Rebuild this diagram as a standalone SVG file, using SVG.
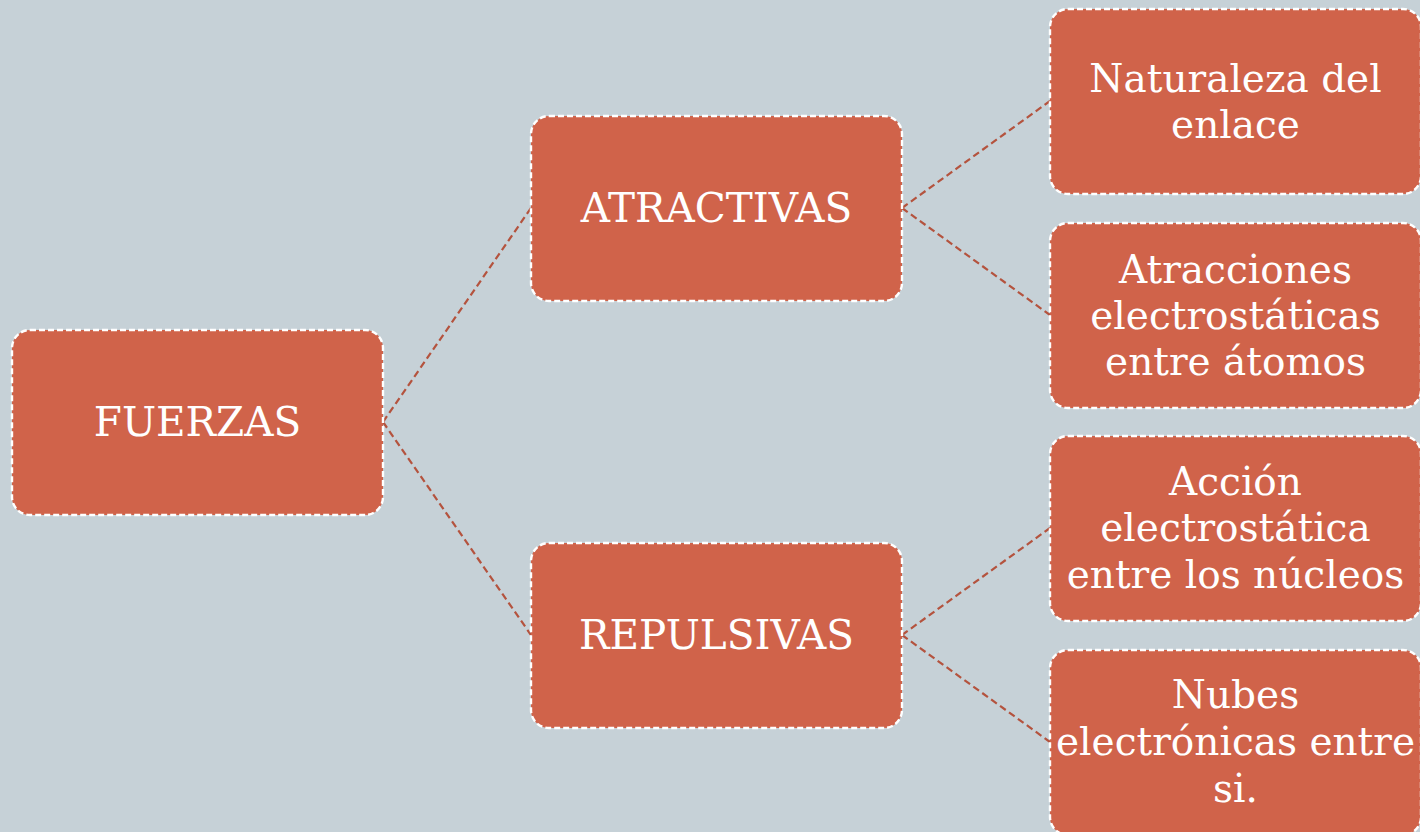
<svg xmlns="http://www.w3.org/2000/svg" width="1420" height="832" viewBox="0 0 1420 832">
<style>
.box{fill:#D0634A;stroke:#FFFFFF;stroke-width:2.4;stroke-dasharray:6 3}
.lbl{font-family:"DejaVu Serif","Liberation Serif",serif;font-size:39px;fill:#FFFFFF;text-anchor:middle}
.caps{font-size:40.5px}
.conn{stroke:#B4533E;stroke-width:2.2;stroke-dasharray:7 4;fill:none}
</style>
<rect width="1420" height="832" fill="#C6D1D7"/>
<g id="connectors">
<line class="conn" x1="383" y1="422" x2="531" y2="208"/>
<line class="conn" x1="383" y1="422" x2="531" y2="635"/>
<line class="conn" x1="902" y1="208" x2="1050" y2="101"/>
<line class="conn" x1="902" y1="208" x2="1050" y2="315"/>
<line class="conn" x1="902" y1="635" x2="1050" y2="528"/>
<line class="conn" x1="902" y1="635" x2="1050" y2="742"/>
</g>
<g id="fuerzas">
<rect class="box" x="12" y="330" width="371" height="185" rx="18"/>
<text class="lbl caps" x="197.5" y="436">FUERZAS</text>
</g>
<g id="atractivas">
<rect class="box" x="531" y="116" width="371" height="185" rx="18"/>
<text class="lbl caps" x="716.5" y="222">ATRACTIVAS</text>
</g>
<g id="repulsivas">
<rect class="box" x="531" y="543" width="371" height="185" rx="18"/>
<text class="lbl caps" x="716.5" y="649">REPULSIVAS</text>
</g>
<g id="naturaleza">
<rect class="box" x="1050" y="9" width="371" height="185" rx="18"/>
<text class="lbl" x="1235.5" y="92">Naturaleza del</text>
<text class="lbl" x="1235.5" y="138">enlace</text>
</g>
<g id="atracciones">
<rect class="box" x="1050" y="223" width="371" height="185" rx="18"/>
<text class="lbl" x="1235.5" y="283">Atracciones</text>
<text class="lbl" x="1235.5" y="329">electrostáticas</text>
<text class="lbl" x="1235.5" y="375">entre átomos</text>
</g>
<g id="accion">
<rect class="box" x="1050" y="436" width="371" height="185" rx="18"/>
<text class="lbl" x="1235.5" y="495">Acción</text>
<text class="lbl" x="1235.5" y="541">electrostática</text>
<text class="lbl" x="1235.5" y="588">entre los núcleos</text>
</g>
<g id="nubes">
<rect class="box" x="1050" y="650" width="371" height="185" rx="18"/>
<text class="lbl" x="1235.5" y="708">Nubes</text>
<text class="lbl" x="1235.5" y="755">electrónicas entre</text>
<text class="lbl" x="1235.5" y="802">si.</text>
</g>
</svg>
